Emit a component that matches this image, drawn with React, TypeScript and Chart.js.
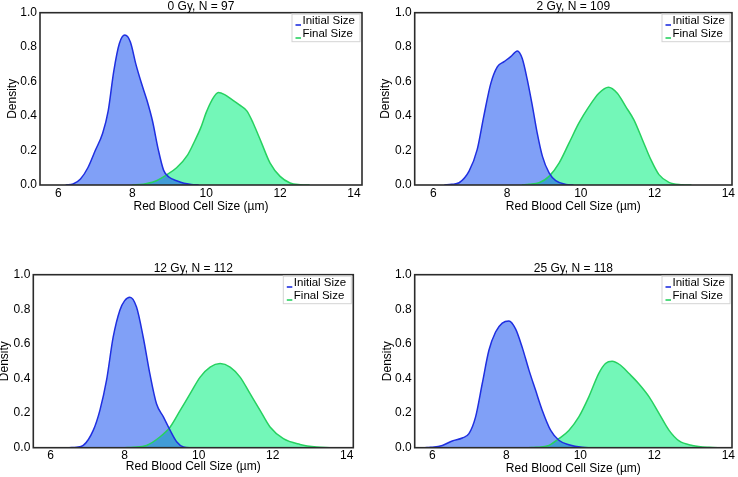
import React, { useEffect, useRef } from 'react';
import { Chart, registerables } from 'chart.js';

Chart.register(...registerables);

// ---- data ----
const seriesLabels = ['Initial Size', 'Final Size'];
const panelTitles = ['0 Gy, N = 97', '2 Gy, N = 109', '12 Gy, N = 112', '25 Gy, N = 118'];
const xTickValues = [6, 8, 10, 12, 14];
const yTickValues = [0, 0.2, 0.4, 0.6, 0.8, 1.0];
const xAxisTitle = 'Red Blood Cell Size (µm)';
const yAxisTitle = 'Density';

const initial0Gy: number[][] = [[6.2,0],[6.4,0.006],[6.6,0.035],[6.8,0.1],[7.0,0.2],[7.2,0.3],[7.35,0.43],[7.5,0.66],[7.65,0.82],[7.8,0.87],[7.95,0.83],[8.1,0.7],[8.25,0.59],[8.4,0.49],[8.55,0.37],[8.7,0.21],[8.85,0.085],[9.0,0.045],[9.2,0.025],[9.4,0.01],[9.6,0.003],[9.8,0]];
const final0Gy: number[][] = [[8.0,0],[8.3,0.005],[8.6,0.02],[8.9,0.055],[9.2,0.10],[9.5,0.175],[9.7,0.26],[9.85,0.33],[10.0,0.42],[10.15,0.49],[10.33,0.537],[10.5,0.525],[10.7,0.495],[10.9,0.465],[11.1,0.43],[11.27,0.36],[11.4,0.295],[11.5,0.243],[11.73,0.127],[12.0,0.05],[12.27,0.012],[12.55,0.002],[12.8,0]];
const initial2Gy: number[][] = [[6.3,0],[6.5,0.004],[6.7,0.013],[6.97,0.08],[7.19,0.205],[7.37,0.40],[7.56,0.59],[7.74,0.687],[7.92,0.716],[8.1,0.745],[8.28,0.778],[8.41,0.735],[8.55,0.61],[8.69,0.455],[8.82,0.30],[8.96,0.166],[9.14,0.07],[9.32,0.025],[9.6,0.003],[9.8,0]];
const final2Gy: number[][] = [[8.4,0],[8.6,0.004],[8.87,0.013],[9.14,0.05],[9.41,0.127],[9.68,0.243],[9.95,0.36],[10.22,0.455],[10.49,0.533],[10.75,0.568],[10.99,0.533],[11.22,0.455],[11.44,0.378],[11.67,0.263],[11.9,0.147],[12.12,0.06],[12.39,0.015],[12.75,0.002],[13.0,0]];
const initial12Gy: number[][] = [[6.5,0],[6.7,0.003],[6.88,0.013],[7.15,0.10],[7.33,0.216],[7.51,0.39],[7.69,0.64],[7.87,0.795],[8.0,0.85],[8.14,0.87],[8.32,0.813],[8.5,0.64],[8.68,0.428],[8.86,0.254],[9.05,0.177],[9.23,0.10],[9.41,0.033],[9.59,0.004],[9.8,0]];
const final12Gy: number[][] = [[8.0,0],[8.23,0.003],[8.59,0.013],[8.95,0.062],[9.23,0.12],[9.5,0.216],[9.77,0.312],[10.04,0.408],[10.31,0.466],[10.58,0.486],[10.85,0.466],[11.12,0.408],[11.39,0.312],[11.66,0.216],[11.93,0.12],[12.29,0.052],[12.74,0.019],[13.19,0.004],[13.55,0]];
const initial25Gy: number[][] = [[5.8,0],[5.95,0.002],[6.27,0.013],[6.54,0.039],[6.81,0.056],[6.99,0.081],[7.17,0.178],[7.35,0.371],[7.53,0.563],[7.71,0.669],[7.89,0.72],[8.07,0.733],[8.25,0.687],[8.43,0.58],[8.61,0.45],[8.79,0.333],[8.97,0.217],[9.2,0.1],[9.42,0.043],[9.69,0.017],[10.05,0.002],[10.3,0]];
const final25Gy: number[][] = [[8.6,0],[8.8,0.002],[9.15,0.013],[9.42,0.052],[9.69,0.1],[9.96,0.178],[10.23,0.294],[10.5,0.43],[10.68,0.487],[10.86,0.5],[11.08,0.478],[11.31,0.43],[11.58,0.37],[11.86,0.294],[12.13,0.197],[12.4,0.1],[12.67,0.039],[13.03,0.013],[13.48,0.002],[13.84,0]];

const panelSeries = [
  [initial0Gy, final0Gy],
  [initial2Gy, final2Gy],
  [initial12Gy, final12Gy],
  [initial25Gy, final25Gy],
];

// ---- styles ----
const FONT_FAMILY = '"Liberation Sans", Arial, sans-serif';
const LINE_COLORS = ['#1f2fe0', '#27d160'];
const FILL_COLORS = ['rgba(24, 82, 240, 0.55)', 'rgba(0, 240, 125, 0.55)'];

const layouts = [
  { left: 0, top: 0, w: 369, h: 237, yw: 40, padR: 7, padT: 12.7, xh: 52, xmin: 5.505, xmax: 14.216, yTitlePad: 5.5, xTitlePad: 23 },
  { left: 369, top: 0, w: 369, h: 237, yw: 45.7, padR: 6, padT: 12.7, xh: 52, xmin: 5.496, xmax: 14.1, yTitlePad: 9.5, xTitlePad: 23 },
  { left: 0, top: 237, w: 369, h: 240, yw: 33.3, padR: 15.7, padT: 37.7, xh: 29.3, xmin: 5.53, xmax: 14.18, yTitlePad: -2.2, xTitlePad: 2.8 },
  { left: 369, top: 237, w: 369, h: 240, yw: 45.7, padR: 6, padT: 37.7, xh: 29.3, xmin: 5.524, xmax: 14.1, yTitlePad: 11.1, xTitlePad: 1.1 },
];

function makeDecorPlugin(title: string) {
  return {
    id: 'decor',
    afterDraw(chart: any) {
      const { ctx, chartArea } = chart;
      const { left, right, top, bottom } = chartArea;
      ctx.save();
      // frame
      ctx.strokeStyle = '#2b2b2b';
      ctx.lineWidth = 1.6;
      ctx.strokeRect(left, top, right - left, bottom - top);
      // panel title
      ctx.fillStyle = '#000';
      ctx.font = `12px ${FONT_FAMILY}`;
      ctx.textAlign = 'center';
      ctx.textBaseline = 'middle';
      ctx.fillText(title, (left + right) / 2, top - 6.5);
      // legend
      const bw = 69;
      const bh = 28.5;
      const bx = right - 1.5 - bw;
      const by = top + 1;
      ctx.fillStyle = 'rgba(255,255,255,0.9)';
      ctx.fillRect(bx, by, bw, bh);
      ctx.strokeStyle = '#d4d4d4';
      ctx.lineWidth = 1;
      ctx.strokeRect(bx + 0.5, by + 0.5, bw - 1, bh - 1);
      ctx.font = `11.5px ${FONT_FAMILY}`;
      ctx.textAlign = 'left';
      seriesLabels.forEach((lab, i) => {
        const cy = by + 7.3 + i * 13;
        ctx.strokeStyle = LINE_COLORS[i];
        ctx.lineWidth = 1.6;
        ctx.beginPath();
        ctx.moveTo(bx + 4, cy + 4);
        ctx.lineTo(bx + 9.5, cy + 4);
        ctx.stroke();
        ctx.fillStyle = '#000';
        ctx.fillText(lab, bx + 11, cy);
      });
      ctx.restore();
    },
  };
}

function Panel({ index }: { index: number }) {
  const ref = useRef<HTMLCanvasElement | null>(null);
  const L = layouts[index];
  useEffect(() => {
    if (!ref.current) return;
    const font = { family: FONT_FAMILY, size: 12 };
    const chart = new Chart(ref.current, {
      type: 'line',
      data: {
        datasets: panelSeries[index].map((pts, i) => ({
          label: seriesLabels[i],
          data: pts.map(([x, y]) => ({ x, y })),
          borderColor: LINE_COLORS[i],
          backgroundColor: FILL_COLORS[i],
          borderWidth: 1.5,
          fill: 'origin',
          pointRadius: 0,
          cubicInterpolationMode: 'monotone' as const,
        })),
      },
      options: {
        animation: false,
        responsive: false,
        layout: { padding: { left: 0, right: L.padR, top: L.padT, bottom: 0 } },
        plugins: {
          legend: { display: false },
          tooltip: { enabled: false },
          title: { display: false },
          filler: { drawTime: 'beforeDatasetsDraw' },
        } as any,
        scales: {
          x: {
            type: 'linear',
            min: L.xmin,
            max: L.xmax,
            afterBuildTicks: (s: any) => { s.ticks = xTickValues.map((v) => ({ value: v })); },
            grid: { display: false, drawTicks: false },
            border: { display: false },
            ticks: { color: '#000', font, padding: 1, maxRotation: 0, autoSkip: false },
            title: { display: true, text: xAxisTitle, color: '#000', font, padding: { top: 0, bottom: L.xTitlePad } },
            afterFit: (s: any) => { s.height = L.xh; },
          },
          y: {
            type: 'linear',
            min: 0,
            max: 1,
            afterBuildTicks: (s: any) => { s.ticks = yTickValues.map((v) => ({ value: v })); },
            grid: { display: false, drawTicks: false },
            border: { display: false },
            ticks: { color: '#000', font, padding: 3, callback: (v: any) => Number(v).toFixed(1) },
            title: { display: true, text: yAxisTitle, color: '#000', font, padding: { top: L.yTitlePad, bottom: 0 } },
            afterFit: (s: any) => { s.width = L.yw; },
          },
        },
      } as any,
      plugins: [makeDecorPlugin(panelTitles[index])],
    });
    return () => chart.destroy();
  }, [index]);
  return (
    <canvas
      ref={ref}
      width={L.w}
      height={L.h}
      style={{ position: 'absolute', left: L.left, top: L.top, width: L.w, height: L.h }}
    />
  );
}

export default function App() {
  return (
    <div style={{ position: 'absolute', left: 0, top: 0, width: 738, height: 477, background: '#fff', overflow: 'hidden' }}>
      {[0, 1, 2, 3].map((i) => (
        <Panel key={i} index={i} />
      ))}
    </div>
  );
}
